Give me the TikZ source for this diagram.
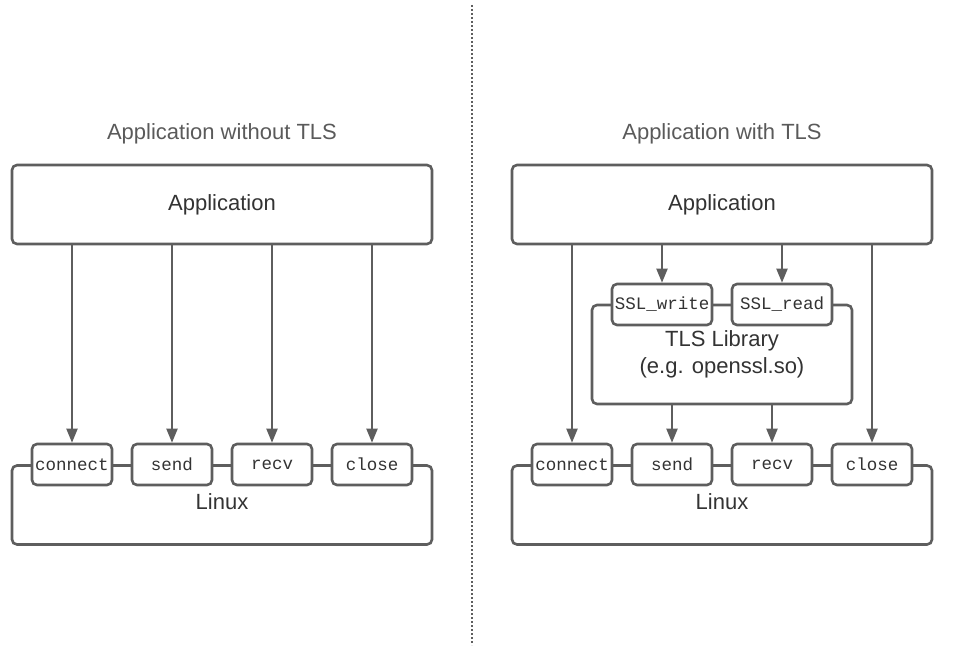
\documentclass[tikz,border=0pt]{standalone}
\usepackage{fontspec}
\setmainfont{Liberation Sans}
\setmonofont{Liberation Mono}
\usetikzlibrary{arrows.meta}
\definecolor{linegray}{HTML}{5E5E5E}
\definecolor{textdark}{HTML}{333333}
\definecolor{titlegray}{HTML}{5A5A5A}
\tikzset{
  bigbox/.style={draw=linegray, line width=2.6pt, rounded corners=5pt, fill=white,
    minimum width=420pt, minimum height=79pt, inner sep=0pt, text=textdark,
    font=\fontsize{22}{26}\selectfont},
  fnbox/.style={draw=linegray, line width=2.6pt, rounded corners=5pt, fill=white,
    minimum width=80pt, minimum height=41pt, inner sep=0pt, text=textdark,
    font=\ttfamily\fontsize{17.5}{20}\selectfont},
  sslbox/.style={fnbox, minimum width=100pt},
  libbox/.style={draw=linegray, line width=2.6pt, rounded corners=5pt, fill=white,
    minimum width=260pt, minimum height=99pt, inner sep=0pt, text=textdark, align=center,
    font=\fontsize{22}{27}\selectfont},
  lbl/.style={text=textdark, inner sep=0pt, font=\fontsize{22}{26}\selectfont},
  ttl/.style={text=titlegray, inner sep=0pt, font=\fontsize{22}{26}\selectfont},
  arr/.style={draw=linegray, line width=2pt, -{Triangle[length=14pt,width=11pt]}},
  divider/.style={draw=linegray, line width=1.6pt, dash pattern=on 2pt off 2pt}
}
\begin{document}
\begin{tikzpicture}[x=1pt,y=-1pt]
\useasboundingbox (0,0) rectangle (971,666);
% divider
\coordinate (dtop) at (472,5);
\coordinate (dbot) at (472,645);
\draw[divider] (dtop) -- (dbot);

% ---------- Left ----------
\node[ttl] (ltitle) at (222,134) {Application without TLS};
\node[bigbox] (lapp) at (222,204.5) {Application};
\node[bigbox] (llinux) at (222,505) {};
\node[lbl] (llinuxlbl) at (222,502) {Linux};
\node[fnbox] (lconnect) at (72,464.5) {connect};
\node[fnbox] (lsend) at (172,464.5) {send};
\node[fnbox] (lrecv) at (272,464.5) {recv};
\node[fnbox] (lclose) at (372,464.5) {close};
\draw[arr] (lconnect.north |- lapp.south) -- (lconnect.north);
\draw[arr] (lsend.north |- lapp.south) -- (lsend.north);
\draw[arr] (lrecv.north |- lapp.south) -- (lrecv.north);
\draw[arr] (lclose.north |- lapp.south) -- (lclose.north);

% ---------- Right ----------
\node[ttl] (rtitle) at (722,134) {Application with TLS};
\node[bigbox] (rapp) at (722,204.5) {Application};
\node[bigbox] (rlinux) at (722,505) {};
\node[lbl] (rlinuxlbl) at (722,502) {Linux};
\node[fnbox] (rconnect) at (572,464.5) {connect};
\node[fnbox] (rsend) at (672,464.5) {send};
\node[fnbox] (rrecv) at (772,464.5) {recv};
\node[fnbox] (rclose) at (872,464.5) {close};
\node[libbox] (tls) at (722,354.5) {TLS Library\\(e.g. openssl.so)};
\node[sslbox] (sslw) at (662,304.5) {SSL\_write};
\node[sslbox] (sslr) at (782,304.5) {SSL\_read};

\draw[arr] (rconnect.north |- rapp.south) -- (rconnect.north);
\draw[arr] (rclose.north |- rapp.south) -- (rclose.north);
\draw[arr] (sslw.north |- rapp.south) -- (sslw.north);
\draw[arr] (sslr.north |- rapp.south) -- (sslr.north);
\draw[arr] (rsend.north |- tls.south) -- (rsend.north);
\draw[arr] (rrecv.north |- tls.south) -- (rrecv.north);
\end{tikzpicture}
\end{document}
